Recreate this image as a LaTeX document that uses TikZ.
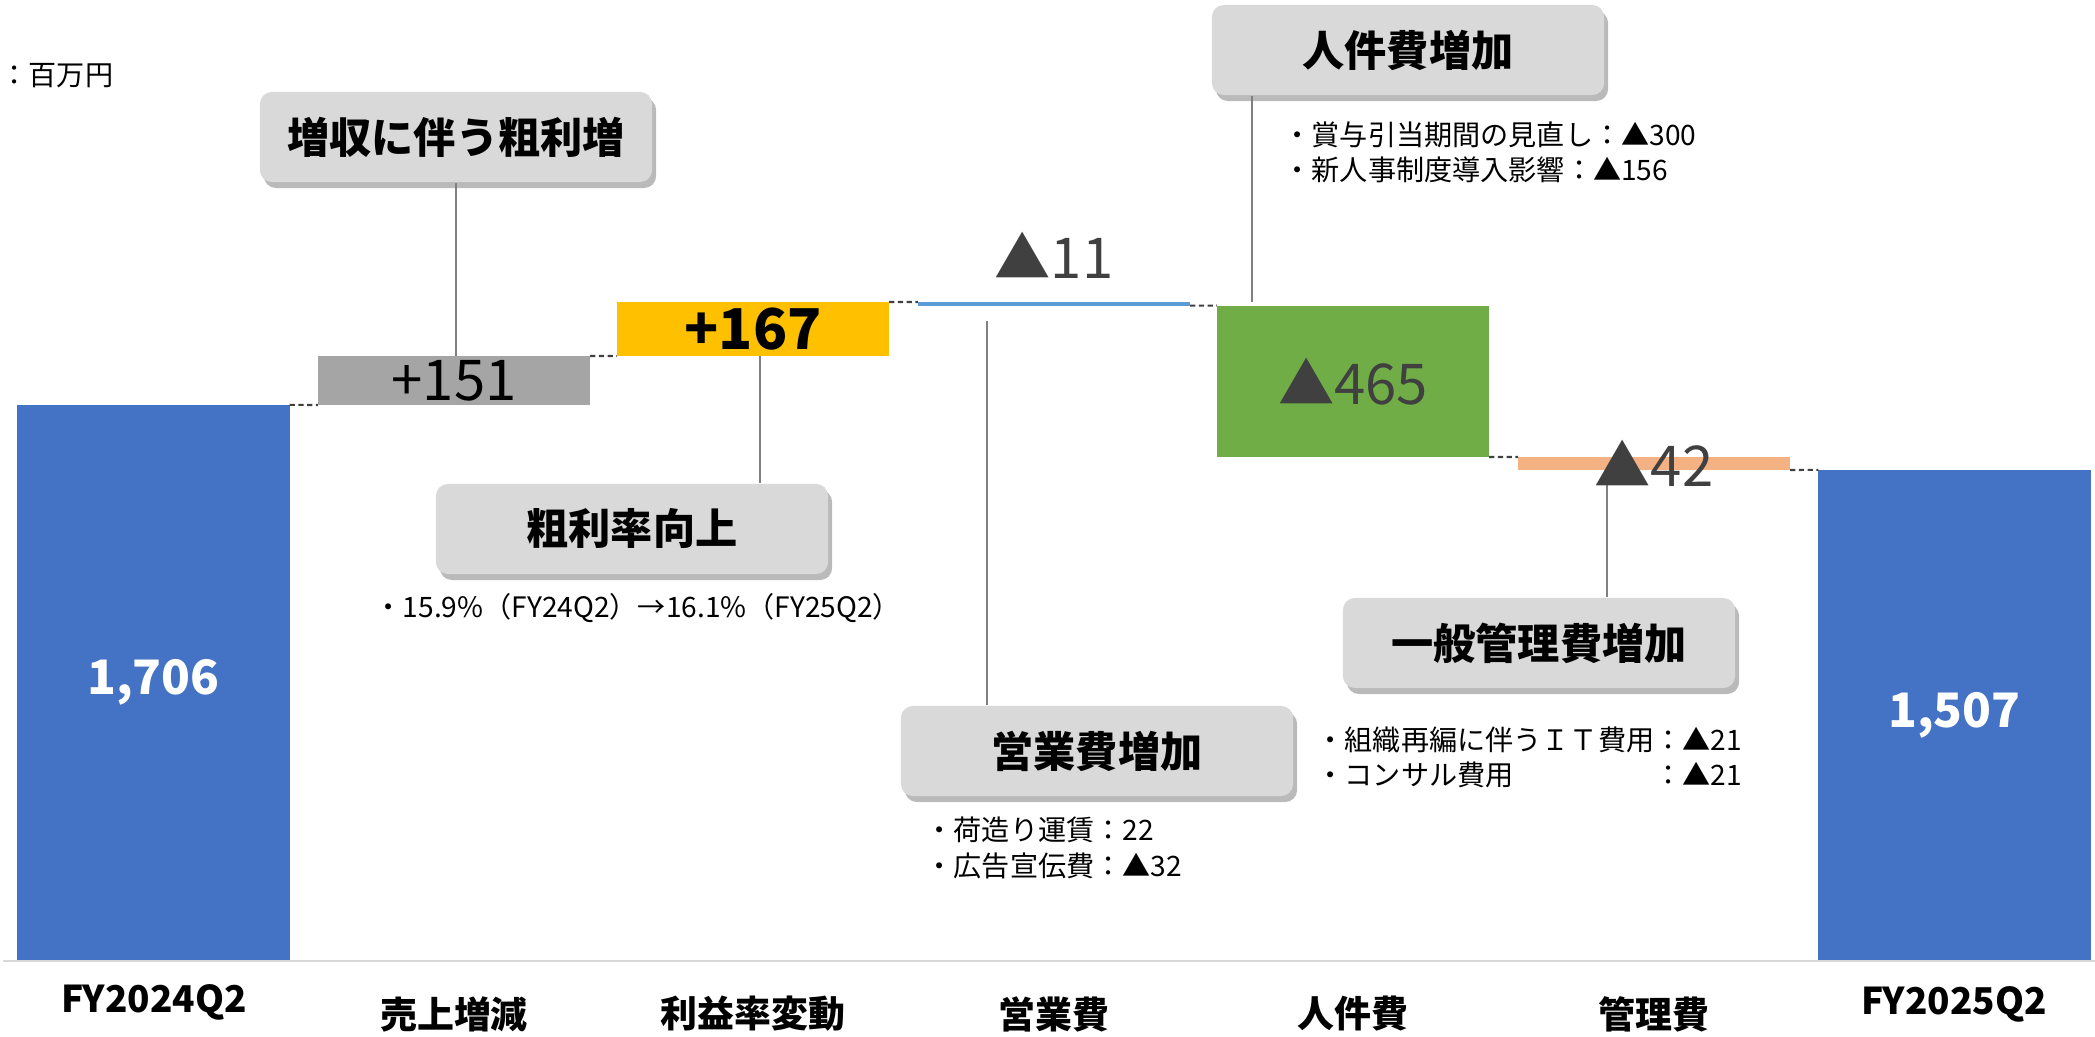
\documentclass[tikz,border=0pt]{standalone}
\usepackage{fontspec}
\setmainfont{Noto Sans CJK JP}
\usetikzlibrary{shadows}

\definecolor{barblue}{HTML}{4472C4}
\definecolor{bargray}{HTML}{A5A5A5}
\definecolor{baryellow}{HTML}{FFC000}
\definecolor{barsky}{HTML}{5B9BD5}
\definecolor{bargreen}{HTML}{70AD47}
\definecolor{barorange}{HTML}{F4B183}
\definecolor{boxgray}{HTML}{D9D9D9}
\definecolor{darktext}{HTML}{404040}

\tikzset{
  bar/.style={inner sep=0pt, outer sep=0pt, minimum width=2.72cm},
  barlab/.style={font=\fontsize{16}{18}\selectfont, inner sep=0pt},
  totlab/.style={font=\fontsize{13.5}{16}\selectfont\bfseries, text=white, inner sep=0pt},
  callbox/.style={fill=boxgray, rounded corners=0.12cm, minimum width=3.92cm,
    minimum height=0.9cm, font=\fontsize{12}{14}\selectfont\bfseries,
    drop shadow={shadow xshift=0.04cm, shadow yshift=-0.06cm, fill=black!60, opacity=0.45}},
  callline/.style={draw=gray, line width=0.4pt},
  gap/.style={dashed, dash pattern=on 1.5pt off 1pt, line width=0.6pt, draw=darktext},
  note/.style={font=\fontsize{8}{10}\selectfont, align=left, inner sep=0pt, anchor=west},
  catlab/.style={font=\fontsize{10.5}{12}\selectfont\bfseries}
}

\begin{document}
\begin{tikzpicture}[x=0.01cm, y=-0.01cm]
    \useasboundingbox (0,0) rectangle (2095,1037);

    % axis
    \draw[draw=boxgray, line width=0.8pt] (3,961) -- (2095,961);

    % bars
    \node[bar, fill=barblue, minimum height=5.55cm] (b1706) at (153.5,682.5) {};
    \node[bar, fill=bargray, minimum height=0.49cm] (b151) at (454,380.5) {};
    \node[bar, fill=baryellow, minimum height=0.54cm] (b167) at (753,329) {};
    \node[bar, fill=barsky, minimum height=0.036cm] (b11) at (1054,303.8) {};
    \node[bar, fill=bargreen, minimum height=1.514cm] (b465) at (1353,381.3) {};
    \node[bar, fill=barorange, minimum height=0.13cm] (b42) at (1654,463.5) {};
    \node[bar, fill=barblue, minimum height=4.9cm] (b1507) at (1954.5,715) {};

    % steps between bars
    \draw[gap] (b1706.north east) -- (b151.south west);
    \draw[gap] (b151.north east) -- (b167.south west);
    \draw[gap] (b167.north east) -- (b11.north west);
    \draw[gap] (b11.south east) -- (b465.north west);
    \draw[gap] (b465.south east) -- (b42.north west);
    \draw[gap] (b42.south east) -- (b1507.north west);

    % call-outs
    \node[callbox] (cGross) at (456,137) {増収に伴う粗利増};
    \node[callbox] (cRate) at (632,529) {粗利率向上};
    \node[callbox] (cSales) at (1097,751) {営業費増加};
    \node[callbox] (cStaff) at (1408,50) {人件費増加};
    \node[callbox] (cAdmin) at (1539,643) {一般管理費増加};

    \coordinate (tRate) at (760,356);
    \coordinate (tSales) at (987,321);
    \coordinate (tStaff) at (1252,302);
    \coordinate (tAdmin) at (1607,470);

    \draw[callline] (cGross.south) -- (cGross.south |- b151.north);
    \draw[callline] (tRate) -- (tRate |- cRate.north);
    \draw[callline] (tSales) -- (tSales |- cSales.north);
    \draw[callline] (tStaff |- cStaff.south) -- (tStaff);
    \draw[callline] (tAdmin) -- (tAdmin |- cAdmin.north);

    % values
    \node[totlab] (l1706) at (b1706) {1,706};
    \node[barlab] (l151) at (b151) {+151};
    \node[barlab, font=\fontsize{16}{18}\selectfont\bfseries] (l167) at (b167) {+167};
    \node[barlab, text=darktext] (l11) at (1054,255) {▲11};
    \node[barlab, text=darktext] (l465) at (b465) {▲465};
    \node[barlab, text=darktext] (l42) at (b42) {▲42};
    \node[totlab] (l1507) at (b1507) {1,507};

    % notes
    \node[note] (unit) at (0,76) {：百万円};
    \node[note] (nRate) at (374,608) {・15.9\%（FY24Q2）→16.1\%（FY25Q2）};
    \node[note] (nSales) at (925,848) {・荷造り運賃：22\\・広告宣伝費：▲32};
    \node[note] (nStaff) at (1283,152) {・賞与引当期間の見直し：▲300\\・新人事制度導入影響：▲156};
    \node[note] (nAdmin) at (1316,761) {\begin{tabular}{@{}l@{}l@{}}・組織再編に伴うＩＴ費用&：▲21\\・コンサル費用&：▲21\end{tabular}};

    % categories
    \node[catlab] (x1) at (154,1002) {FY2024Q2};
    \node[catlab] (x2) at (454,1014) {売上増減};
    \node[catlab] (x3) at (753,1014) {利益率変動};
    \node[catlab] (x4) at (1054,1014) {営業費};
    \node[catlab] (x5) at (1353,1014) {人件費};
    \node[catlab] (x6) at (1654,1014) {管理費};
    \node[catlab] (x7) at (1954,1004) {FY2025Q2};
\end{tikzpicture}
\end{document}
